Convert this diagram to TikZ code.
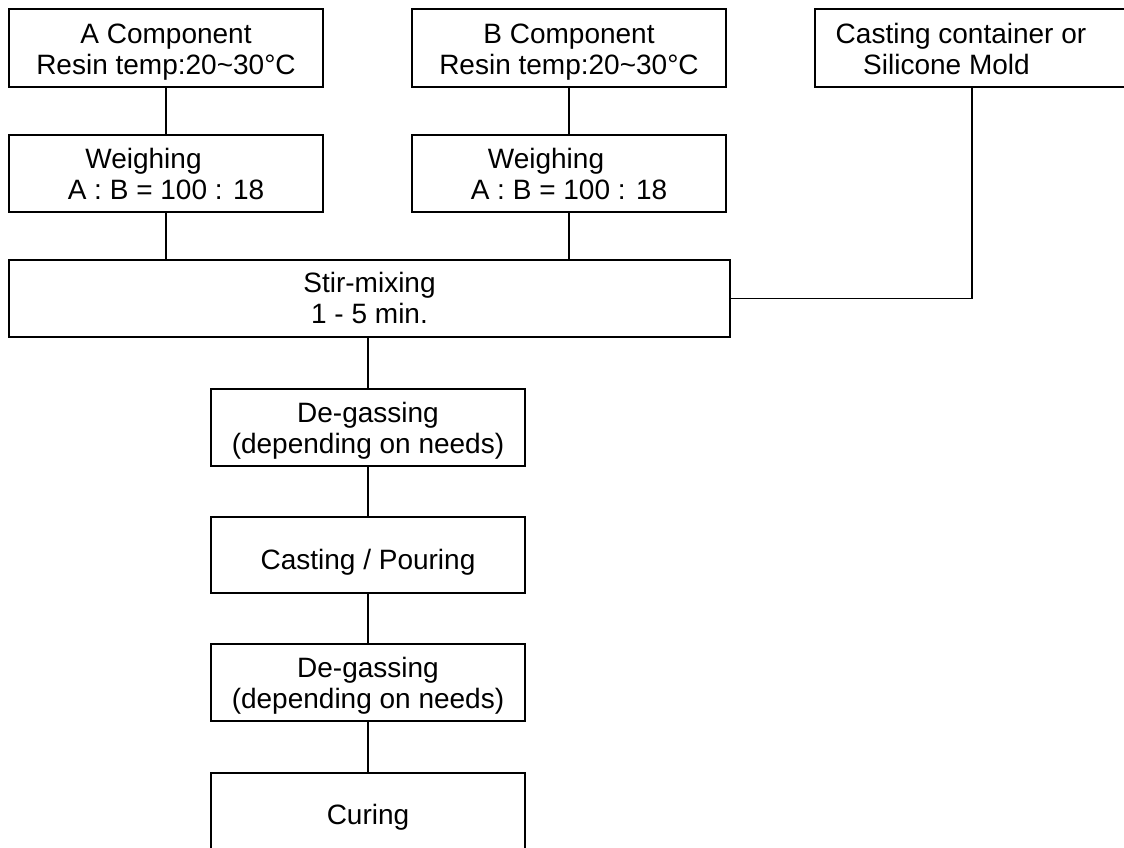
\documentclass[tikz,border=0pt]{standalone}
\usepackage{fontspec}
\setmainfont{Liberation Sans}
\begin{document}
\begin{tikzpicture}[x=1pt,y=-1pt,
  box/.style={draw=black,line width=1.2pt,inner sep=0pt,align=center,
    font=\fontsize{28}{31}\selectfont,text height=52pt,text depth=0pt},
  wide/.style={minimum width=314pt,minimum height=77pt},
  link/.style={draw=black,line width=1.2pt}]
\useasboundingbox (0,0) rectangle (1124,847);
\node[box,wide,minimum height=78pt] (acomp) at (166,48) {A Component\\Resin temp:20\textasciitilde30°C};
\node[box,wide,minimum height=78pt] (bcomp) at (569,48) {B Component\\Resin temp:20\textasciitilde30°C};
\node[box,wide,minimum height=78pt] (mold) at (972,48) {Casting container or\kern22pt\mbox{}\\Silicone Mold\kern51pt\mbox{}};
\node[box,wide,text height=51pt] (wa) at (166,173.5) {Weighing\kern45pt\mbox{}\\A : B = 100 : 18};
\node[box,wide,text height=51pt] (wb) at (569,173.5) {Weighing\kern46pt\mbox{}\\A : B = 100 : 18};
\node[box,minimum width=721pt,minimum height=77pt,text height=50pt] (stir) at (369.5,298.5) {Stir-mixing\\1 - 5 min.};
\node[box,wide] (deg1) at (368,427.5) {De-gassing\\(depending on needs)};
\node[box,wide,minimum height=76pt,text height=28pt] (cast) at (368,555) {Casting / Pouring};
\node[box,wide] (deg2) at (368,682.5) {De-gassing\\(depending on needs)};
\node[box,wide,text height=26pt] (cure) at (368,811.5) {Curing};
\draw[link] (acomp) -- (wa);
\draw[link] (bcomp) -- (wb);
\draw[link] (wa.south) -- (wa.south |- stir.north);
\draw[link] (wb.south) -- (wb.south |- stir.north);
\draw[link] (mold.south) |- (stir.east);
\draw[link] (deg1.north |- stir.south) -- (deg1.north);
\draw[link] (deg1) -- (cast);
\draw[link] (cast) -- (deg2);
\draw[link] (deg2) -- (cure);
\end{tikzpicture}
\end{document}
